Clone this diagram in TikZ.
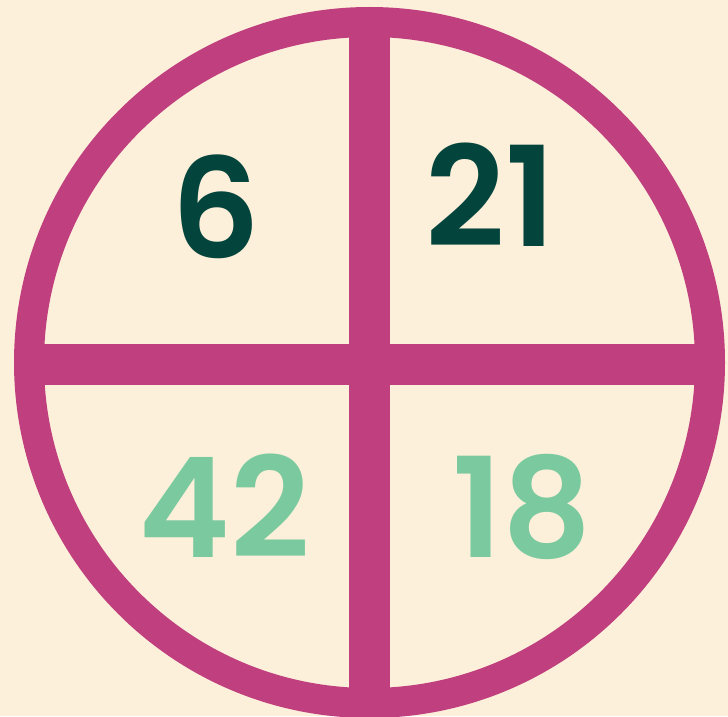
\documentclass[tikz,border=0pt]{standalone}
\usepackage{fontspec}
\setmainfont{Poppins}[BoldFont={Poppins SemiBold}]
\definecolor{cream}{HTML}{FDF0DA}
\definecolor{plum}{HTML}{BF3F7F}
\definecolor{darkgreen}{HTML}{03443C}
\definecolor{mint}{HTML}{7BCA9F}
\begin{document}
\begin{tikzpicture}[x=1pt,y=1pt,
  num/.style={inner sep=0pt, anchor=base, font=\fontsize{139}{139}\selectfont\bfseries},
  bar/.style={fill=plum, draw=none}]
\fill[cream] (0,0) rectangle (728,716);
\useasboundingbox (0,0) rectangle (728,716);
\begin{scope}
\clip (369.5,353.5) circle (350);
\fill[bar] (349,0) rectangle (390,716);
\fill[bar] (0,331) rectangle (728,372.5);
\end{scope}
\draw[plum, line width=30pt] (369.5,353.5) circle (340.5);
\node[num, text=darkgreen] (n6) at (216,457) {6};
\node[num, text=darkgreen] (n21) at (491,469) {21};
\node[num, text=mint] (n42) at (224,159) {42};
\node[num, text=mint] (n18) at (522,159) {18};
\end{tikzpicture}
\end{document}
